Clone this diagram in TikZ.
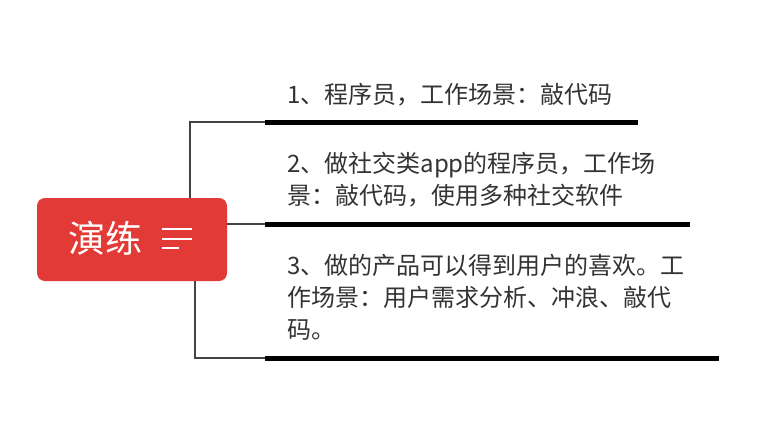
\documentclass[tikz,border=0pt]{standalone}
\usepackage{fontspec}
\newfontfamily\cjk{Noto Sans CJK SC}
\definecolor{boxred}{HTML}{E23A37}
\definecolor{txt}{HTML}{333333}
\definecolor{conn}{HTML}{444444}
\begin{document}
\begin{tikzpicture}[x=1pt,y=-1pt,
  root/.style={fill=boxred,rounded corners=8pt,draw=none},
  conline/.style={draw=conn,line width=1.4pt},
  bar/.style={draw=black,line width=5pt},
  item/.style={anchor=west,inner sep=0pt,text=txt,font=\cjk\fontsize{24}{32}\selectfont,align=left},
  icon/.style={draw=white,line width=2pt}]
\useasboundingbox[fill=white] (0,0) rectangle (769,434);
% root
\path[root] (37,198) rectangle (227,281);
\node[inner sep=0pt,text=white,font=\cjk\fontsize{37}{40}\selectfont] (root) at (105,238) {演练};
\coordinate (rt) at (190,198);
\coordinate (rr) at (227,224);
\coordinate (rb) at (195,281);
\draw[icon] (162,229) -- (192,229);
\draw[icon] (162,238.5) -- (192,238.5);
\draw[icon] (162,248) -- (179,248);
% bars
\coordinate (b1s) at (265,122); \coordinate (b1e) at (638,122);
\coordinate (b2s) at (265,224); \coordinate (b2e) at (690,224);
\coordinate (b3s) at (265,358); \coordinate (b3e) at (719,358);
\draw[conline] (rt) |- (b1s);
\draw[conline] (rr) -- (b2s);
\draw[conline] (rb) |- (b3s);
\draw[bar] (b1s) -- (b1e);
\draw[bar] (b2s) -- (b2e);
\draw[bar] (b3s) -- (b3e);
% texts
\node[item] (t1) at (287,95) {1、程序员，工作场景：敲代码};
\node[item] (t2) at (287,180) {2、做社交类app的程序员，工作场\\景：敲代码，使用多种社交软件};
\node[item] (t3) at (287,297) {3、做的产品可以得到用户的喜欢。工\\作场景：用户需求分析、冲浪、敲代\\码。};
\end{tikzpicture}
\end{document}
